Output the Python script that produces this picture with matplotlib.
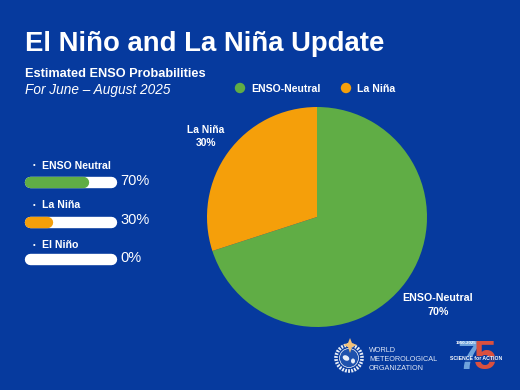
import matplotlib
matplotlib.use('Agg')
import matplotlib.pyplot as plt
from matplotlib.patches import Circle, Ellipse, Polygon

W, H = 520, 390
BG = '#063a9e'
GREEN = '#60ad45'
ORANGE = '#f59f0a'

pie_labels = ['ENSO-Neutral', 'La Niña']
pie_values = [70, 30]
pie_colors = [GREEN, ORANGE]

bar_labels = ['ENSO Neutral', 'La Niña', 'El Niño']
bar_values = [70, 30, 0]
bar_colors = [GREEN, ORANGE, 'white']

plt.rcParams['font.family'] = ['Liberation Sans', 'DejaVu Sans']

fig = plt.figure(figsize=(W/100, H/100), dpi=100, facecolor=BG)

# overlay in pixel coords, for the text
ov = fig.add_axes([0, 0, 1, 1])
ov.set_xlim(0, W)
ov.set_ylim(H, 0)
ov.axis('off')

ov.text(25, 44, 'El Niño and La Niña Update', color='white', fontsize=19.8,
        fontweight='bold', va='center', ha='left')
ov.text(25, 74, 'Estimated ENSO Probabilities', color='white', fontsize=9.2,
        fontweight='bold', va='center')
ov.text(25, 90, 'For June – August 2025', color='white', fontsize=9.8,
        fontstyle='italic', va='center')

# legend
for x, col, lab in zip([240, 346], pie_colors, pie_labels):
    ov.add_patch(Circle((x, 88), 5.2, color=col, lw=0))
    ov.text(x+11, 88.5, lab, color='white', fontsize=7.6, fontweight='bold', va='center')

# pie
pie_ax = fig.add_axes([(317-110)/W, 1-(217+110)/H, 220/W, 220/H])
pie_ax.pie(pie_values, colors=pie_colors, startangle=90, counterclock=False, radius=1.0)
pie_ax.set_xlim(-1, 1)
pie_ax.set_ylim(-1, 1)

ov.text(206, 136.5, 'La Niña\n30%', color='white', fontsize=7.4, fontweight='bold',
        ha='center', va='center', linespacing=1.45)
ov.text(438, 305, 'ENSO-Neutral\n70%', color='white', fontsize=7.7, fontweight='bold',
        ha='center', va='center', linespacing=1.45)

# progress bars, 0-100 spans the whole track including round caps
bar_ax = fig.add_axes([25/W, 1-270/H, 91/W, 108/H])
bar_ax.set_xlim(0, 100)
bar_ax.set_ylim(270, 162)
bar_ax.axis('off')
bar_y = [182, 222, 259]
label_y = [166, 205, 245]
pct_y = [181, 220.5, 258]
cap = 6
for y, ly, py, lab, val, col in zip(bar_y, label_y, pct_y, bar_labels, bar_values, bar_colors):
    bar_ax.plot([cap, 100-cap], [y, y], color='white', lw=8.2, solid_capstyle='round', clip_on=False)
    if val > 0:
        bar_ax.plot([cap, val-cap], [y, y], color=col, lw=8.2, solid_capstyle='round', clip_on=False)
    ov.text(34.5, ly, '•', color='white', fontsize=5.5, ha='center', va='center')
    ov.text(42, ly, lab, color='white', fontsize=7.6, fontweight='bold', va='center')
    ov.text(120.5, py, f'{val}%', color='white', fontsize=10.5, va='center')

# WMO emblem, roughly
ov.add_patch(Circle((349, 358), 13, fc='none', ec='#e8eef8', lw=2.6, ls=(0, (0.5, 0.35))))
ov.add_patch(Circle((349, 358), 9.5, fc='#1f52ad', ec='white', lw=0.5))
ov.add_patch(Ellipse((346, 358), 7, 5, angle=30, fc='#e8eef8', lw=0))
ov.add_patch(Ellipse((353, 361), 4, 5, fc='#e8eef8', lw=0))
ov.add_patch(Polygon([(350, 338), (352, 343), (357, 345), (352, 347), (350, 353),
                      (348, 347), (343, 345), (348, 343)], fc='#f2c27a', lw=0))
ov.text(369, 359.5, 'WORLD\nMETEOROLOGICAL\nORGANIZATION', color='#dfe7f6', fontsize=5.2,
        va='center', linespacing=1.3)

# 75 logo, roughly
ov.text(468, 358, '7', color='#6fa3dc', fontsize=29, fontweight='bold', ha='center', va='center')
ov.text(485, 358, '5', color='#d9503f', fontsize=29, fontweight='bold', ha='center', va='center')
ov.text(466, 343, '1950-2025', color='white', fontsize=3.2, fontweight='bold', ha='center', va='center')
ov.text(476, 359, 'SCIENCE for ACTION', color='white', fontsize=3.7, fontweight='bold',
        ha='center', va='center', bbox=dict(fc=BG, ec='none', pad=0.6, alpha=0.75))

fig.savefig('out.png', dpi=100, facecolor=BG)
